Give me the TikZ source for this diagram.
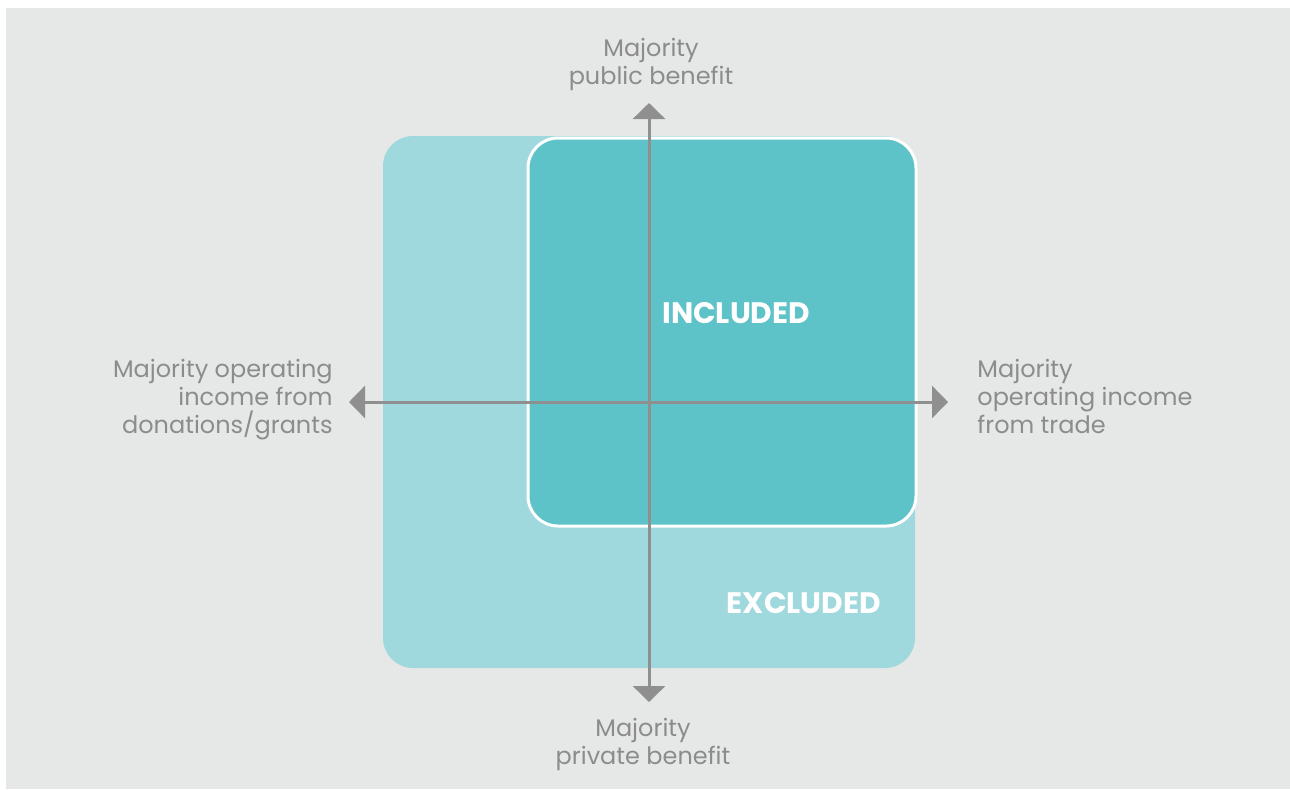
\documentclass[tikz,border=0pt]{standalone}
\usepackage{fontspec}
\setmainfont{Poppins}
\usetikzlibrary{arrows.meta,positioning}
\definecolor{bggrey}{HTML}{E6E8E7}
\definecolor{paleteal}{HTML}{A0D9DD}
\definecolor{deepteal}{HTML}{5DC3C8}
\definecolor{axisgrey}{HTML}{8F8F8F}
\definecolor{textgrey}{HTML}{8C8C8C}

\begin{document}
\begin{tikzpicture}[x=0.5pt,y=-0.5pt,
	box/.style={rounded corners=15pt,minimum width=#1,minimum height=#1,inner sep=0pt},
	axis/.style={draw=axisgrey,line width=1.5pt,{Triangle[length=8pt,width=16pt]}-{Triangle[length=8pt,width=16pt]}},
	axislabel/.style={inner sep=0pt,text=textgrey,font=\fontsize{12}{14}\selectfont},
	zone/.style={inner sep=0pt,text=white,font=\fontsize{14.8}{16}\selectfont\bfseries}]

	\useasboundingbox (0,0) rectangle (1290,789);
	\fill[white] (0,0) rectangle (1290,789);
	\fill[bggrey] (6,8) rectangle (1290,789);

	\node[box=266pt, fill=paleteal] (excluded) at (649,402) {};
	\node[box=194pt, fill=deepteal, draw=white, line width=1.5pt] (included) at (722,332) {};

	\coordinate (up) at (649,103);
	\coordinate (down) at (649,702);
	\coordinate (west) at (349,402);
	\coordinate (east) at (948,402);
	\draw[axis] (down) -- (up);
	\draw[axis] (west) -- (east);

	\node[zone, anchor=base west] (inc) at (662,323) {INCLUDED};
	\node[zone, anchor=base east] (exc) at (881,613) {EXCLUDED};

	% base = baseline of the last line
	\node[axislabel, align=center, anchor=base] (public) at (651,84) {Majority\\public benefit};
	\node[axislabel, align=center, anchor=base] (private) at (643,764) {Majority\\private benefit};
	\node[axislabel, align=right, anchor=base east] (grants) at (333,433) {Majority operating\\income from\\donations/grants};
	\node[axislabel, align=left, anchor=base west] (trade) at (977,433) {Majority\\operating income\\from trade};

\end{tikzpicture}
\end{document}
